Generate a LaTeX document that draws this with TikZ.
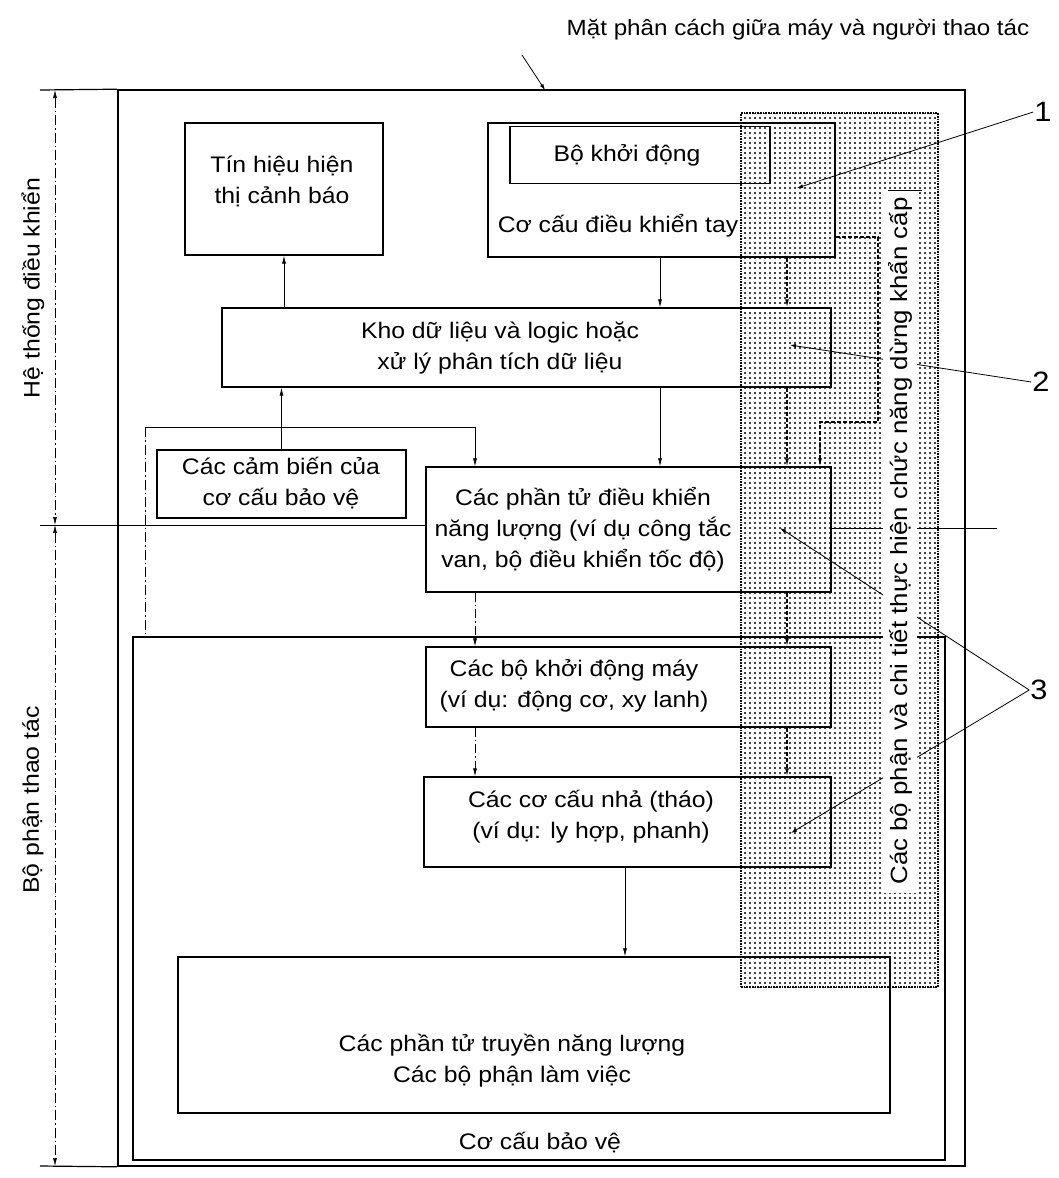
\documentclass[tikz,border=0pt]{standalone}
\usepackage{fontspec}
\setmainfont{Liberation Sans}[FakeStretch=1.1]
\usetikzlibrary{arrows.meta,patterns.meta}
\begin{document}
\begin{tikzpicture}[x=1pt,y=-1pt,
  box/.style={draw, line width=1.4pt, inner sep=0pt},
  txt/.style={align=center, font=\fontsize{22.5}{31}\selectfont, inner sep=0pt},
  conn/.style={line width=0.7pt, -{Latex[length=8pt,width=4pt]}},
  dconn/.style={conn, dash pattern=on 9pt off 3pt on 1.5pt off 3pt},
  econn/.style={conn, line width=1.1pt, dash pattern=on 4pt off 2pt},
  dim/.style={line width=0.6pt, dash pattern=on 10pt off 3pt on 1.5pt off 3pt},
  lead/.style={line width=0.8pt, -{Latex[length=6pt,width=4pt]}},
  num/.style={font=\fontsize{28}{30}\selectfont, inner sep=1pt}]
\useasboundingbox (0,0) rectangle (1058,1178);
\fill[white] (0,0) rectangle (1058,1178);

% emergency stop zone (stippled)
\node[draw, densely dotted, line width=1.7pt, pattern={Dots[distance=5pt,radius=1.1pt]},
      minimum width=197pt, minimum height=874pt, inner sep=0pt] (esz) at (839.5,550) {};

% frames
\node[draw, line width=1.6pt, minimum width=847pt, minimum height=1076pt, inner sep=0pt] (iface) at (541.5,628) {};
\node[draw, line width=1.2pt, minimum width=812pt, minimum height=523pt, inner sep=0pt] (guard) at (539,898.5) {};

% boxes
\node[box, minimum width=198pt, minimum height=132pt] (warn) at (284,189) {};
\node[txt] (warnt) at (282,181) {Tín hiệu hiện\\thị cảnh báo};
\node[box, minimum width=347pt, minimum height=134pt] (hand) at (661.5,190) {};
\node[box, minimum width=260pt, minimum height=57pt] (start) at (640,155) {};
\node[txt] (startt) at (627,155) {Bộ khởi động};
\node[txt] (handt) at (618,226) {Cơ cấu điều khiển tay};
\node[box, minimum width=609pt, minimum height=79pt] (kho) at (526.5,347.5) {};
\node[txt] (khot) at (500,348) {Kho dữ liệu và logic hoặc\\xử lý phân tích dữ liệu};
\node[box, minimum width=249pt, minimum height=68pt] (sens) at (281.5,484) {};
\node[txt] (senst) at (281,483) {Các cảm biến của\\cơ cấu bảo vệ};
\node[box, minimum width=405pt, minimum height=125pt] (pce) at (628.5,529.5) {};
\node[txt] (pcet) at (583,530) {Các phần tử điều khiển\\năng lượng (ví dụ công tắc\\van, bộ điều khiển tốc độ)};
\node[box, minimum width=405pt, minimum height=80pt] (act) at (628.5,687) {};
\node[txt] (actt) at (574,686) {Các bộ khởi động máy\\(ví dụ: động cơ, xy lanh)};
\node[box, minimum width=407pt, minimum height=90pt] (rel) at (627.5,822) {};
\node[txt] (relt) at (591,817) {Các cơ cấu nhả (tháo)\\(ví dụ: ly hợp, phanh)};
\node[box, minimum width=712pt, minimum height=156pt] (work) at (534,1035) {};
\node[txt] (workt) at (512,1061) {Các phần tử truyền năng lượng\\Các bộ phận làm việc};
\node[txt] (guardt) at (540,1143) {Cơ cấu bảo vệ};

% column coordinates
\coordinate (colA) at (475,0);
\coordinate (colB) at (625,0);
\coordinate (colE) at (787,0);
\coordinate (colH) at (660,0);
\coordinate (pv) at (145,427);

% main connectors
\draw[conn] (kho.north -| warn.south) -- (warn.south);
\draw[conn] (sens.north) -- (sens.north |- kho.south);
\draw[conn] (colH |- hand.south) -- (colH |- kho.north);
\draw[conn] (colH |- kho.south) -- (colH |- pce.north);
\draw[conn] (pv) -| (colA |- pce.north);
\draw[dim] (pv) -- (pv |- guard.north);
\draw[dconn] (colA |- pce.south) -- (colA |- act.north);
\draw[dconn] (colA |- act.south) -- (colA |- rel.north);
\draw[conn] (colB |- rel.south) -- (colB |- work.north);

% emergency stop connectors
\coordinate (e1a) at (878,237);
\coordinate (e1b) at (820,422);
\draw[econn] (hand.east |- e1a) -- (e1a) -- (e1a |- e1b) -- (e1b) -- (e1b |- pce.north);
\draw[econn] (colE |- hand.south) -- (colE |- kho.north);
\draw[econn] (colE |- kho.south) -- (colE |- pce.north);
\draw[econn] (colE |- pce.south) -- (colE |- act.north);
\draw[econn] (colE |- act.south) -- (colE |- rel.north);

% dimension lines
\coordinate (dT) at (55,90);
\coordinate (dM) at (55,525);
\coordinate (dB) at (55,1166);
\draw[dim, {Latex[length=8pt,width=4pt]}-{Latex[length=8pt,width=4pt]}] (dT) -- (dM);
\draw[dim, {Latex[length=8pt,width=4pt]}-{Latex[length=8pt,width=4pt]}] (dM) -- (dB);
\coordinate (xT) at (40,90);
\coordinate (xM) at (40,525);
\coordinate (xB) at (40,1166);
\coordinate (xR) at (997,528);
\draw[line width=1.2pt] (xT) -- (iface.north west);
\draw[line width=0.9pt] (xM) -- (xM -| pce.west);
\draw[line width=1.2pt] (xB) -- (iface.south west);
\draw[line width=0.9pt] (pce.east |- xR) -- (xR);

\node[txt, rotate=90] (hts) at (33,288) {Hệ thống điều khiển};
\node[txt, rotate=90] (bpt) at (33,800) {Bộ phận thao tác};

% numbered leaders
\node[num] (n1) at (1043,112) {1};
\node[num] (n2) at (1041,382) {2};
\node[num] (n3) at (1039,690) {3};
\coordinate (p1) at (797,188);
\coordinate (p2) at (790,345);
\coordinate (p3a) at (780,528);
\coordinate (p3b) at (791,833);
\draw[lead] (n1.west) -- (p1);
\draw[lead] (n2.west) -- (p2);
\draw[lead] (n3.west) -- (p3a);
\draw[lead] (n3.west) -- (p3b);

% white text strip
\fill[white] (883,190) rectangle (917,893);
\draw[line width=0.8pt] (888,190) -- (922,190);
\node[txt, rotate=90, font=\fontsize{23.5}{31}\selectfont] (est) at (900,541) {Các bộ phận và chi tiết thực hiện chức năng dừng khẩn cấp};

% title
\node[font=\fontsize{22}{24}\selectfont, inner sep=0pt] (title) at (798,30) {Mặt phân cách giữa máy và người thao tác};
\coordinate (tl) at (522,55);
\coordinate (tp) at (545,90);
\draw[lead] (tl) -- (tp);
\end{tikzpicture}
\end{document}
